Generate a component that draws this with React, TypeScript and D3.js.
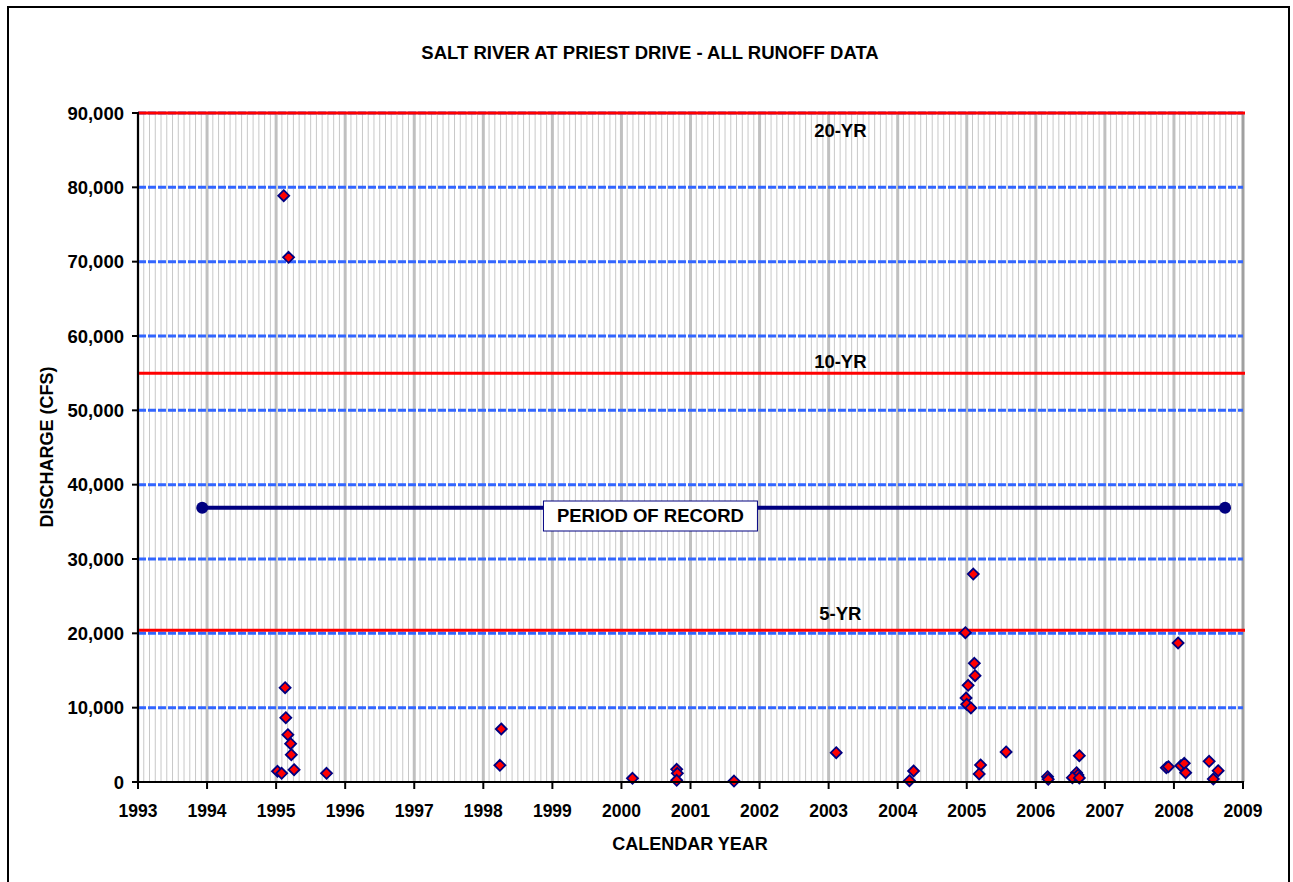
import React from "react";
import * as d3 from "d3";

const title = "SALT RIVER AT PRIEST DRIVE - ALL RUNOFF DATA";
const xTitle = "CALENDAR YEAR";
const yTitle = "DISCHARGE (CFS)";

const years = d3.range(1993, 2010);
const yTicks = d3.range(0, 90001, 10000);

const eventDates = [
  1995.11, 1995.18, 1995.13, 1995.14, 1995.17, 1995.21, 1995.22, 1995.26, 1995.02, 1995.08, 1995.73,
  1998.24, 1998.26,
  2000.16, 2000.80, 2000.81, 2000.80, 2001.63, 2003.11,
  2004.17, 2004.23, 2004.98, 2005.095, 2005.11, 2005.12, 2005.02, 2004.99, 2005.0, 2005.06,
  2005.57, 2005.2, 2005.18,
  2006.17, 2006.18, 2006.63, 2006.59, 2006.61, 2006.53, 2006.63,
  2007.89, 2007.92, 2008.06, 2008.1, 2008.15, 2008.17, 2008.51, 2008.64, 2008.57,
];
const eventDischarge = [
  78880, 70590, 12690, 8650, 6370, 5150, 3670, 1650, 1440, 1170, 1170,
  2240, 7130,
  500, 1710, 1170, 230, 130, 3940,
  180, 1480, 20090, 27980, 15970, 14300, 13010, 11300, 10450, 9960,
  4040, 2290, 1080,
  720, 360, 3540, 1250, 940, 580, 540,
  1920, 2060, 18700, 2190, 2510, 1250, 2780, 1520, 400,
];

const returnLabels = ["20-YR", "10-YR", "5-YR"];
const returnFlows = [90000, 55000, 20400];
const returnLabelFlows = [86770, 55630, 21860];
const returnLabelYear = 2003.17;

const recordStart = 1993.93;
const recordEnd = 2008.74;
const recordFlow = 36900;
const recordLabel = "PERIOD OF RECORD";
const recordLabelYear = 2000.42;

const FONT = "Arial, 'Liberation Sans', sans-serif";
const FS = 18.5;

export default function App() {
  const left = 138, right = 1243, top = 113, bottom = 782;
  const x = d3.scaleLinear().domain([1993, 2009]).range([left, right]);
  const y = d3.scaleLinear().domain([0, 90000]).range([bottom, top]);
  const months = d3.range(1993, 2009, 1 / 12).filter((m) => Math.abs(m - Math.round(m)) > 1e-6);
  const diamond = (cx: number, cy: number, r: number) =>
    `M${cx},${cy - r}L${cx + r},${cy}L${cx},${cy + r}L${cx - r},${cy}Z`;
  const midX = x(recordLabelYear);
  const txt = { fontFamily: FONT, fontWeight: "bold" as const, fontSize: FS };

  return (
    <svg width={1293} height={882} style={{ position: "absolute", left: 0, top: 0, background: "#fff" }}>
      <rect x={8} y={7} width={1281} height={900} fill="#fff" stroke="#000" strokeWidth={2} />
      <text x={650} y={59} textAnchor="middle" {...txt}>
        {title}
      </text>
      {months.map((m, i) => (
        <line key={"m" + i} x1={x(m)} x2={x(m)} y1={top} y2={bottom} stroke="#c8c8c8" strokeWidth={1} />
      ))}
      {years.map((yr) => (
        <line key={"g" + yr} x1={x(yr)} x2={x(yr)} y1={top} y2={bottom} stroke={yr === 2009 ? "#a0a0a0" : "#c0c0c0"} strokeWidth={3} />
      ))}
      {yTicks.filter((t) => t > 0).map((t) => (
        <line key={"h" + t} x1={left} x2={right} y1={y(t)} y2={y(t)} stroke="#3366ff" strokeWidth={3} strokeDasharray="8,2" />
      ))}
      {returnFlows.map((f, i) => (
        <line key={"r" + i} x1={left} x2={right + 2} y1={y(f)} y2={y(f)} stroke="#ff0000" strokeWidth={3} />
      ))}
      {returnLabels.map((l, i) => (
        <text key={"rl" + i} x={x(returnLabelYear)} y={y(returnLabelFlows[i])} textAnchor="middle" {...txt}>
          {l}
        </text>
      ))}
      <line x1={x(recordStart)} x2={x(recordEnd)} y1={y(recordFlow)} y2={y(recordFlow)} stroke="#000080" strokeWidth={4} />
      <circle cx={x(recordStart)} cy={y(recordFlow)} r={6} fill="#000080" />
      <circle cx={x(recordEnd)} cy={y(recordFlow)} r={6} fill="#000080" />
      <rect x={midX - 107} y={501} width={214} height={30} fill="#fff" stroke="#000080" strokeWidth={1} />
      <text x={midX} y={522} textAnchor="middle" {...txt}>
        {recordLabel}
      </text>
      {eventDates.map((d, i) => (
        <path key={"p" + i} d={diamond(x(d), y(eventDischarge[i]), 5.5)} fill="#ff0000" stroke="#000080" strokeWidth={1.8} />
      ))}
      <line x1={left} x2={left} y1={top - 1} y2={bottom + 1} stroke="#000" strokeWidth={2} />
      <line x1={left - 1} x2={right + 1} y1={bottom} y2={bottom} stroke="#000" strokeWidth={2} />
      {yTicks.map((t) => (
        <g key={"yt" + t}>
          <line x1={left - 6} x2={left} y1={y(t)} y2={y(t)} stroke="#000" strokeWidth={2} />
          <text x={124} y={y(t) + 6.6} textAnchor="end" {...txt}>
            {d3.format(",")(t)}
          </text>
        </g>
      ))}
      {years.map((yr) => (
        <g key={"xt" + yr}>
          <line x1={x(yr)} x2={x(yr)} y1={bottom} y2={bottom + 7} stroke="#000" strokeWidth={2} />
          <text x={x(yr)} y={817} textAnchor="middle" {...txt} fontSize={17.5}>
            {yr}
          </text>
        </g>
      ))}
      <text x={690} y={849.5} textAnchor="middle" {...txt} fontSize={18}>
        {xTitle}
      </text>
      <text transform={`translate(52.5,447) rotate(-90)`} textAnchor="middle" {...txt} fontSize={18}>
        {yTitle}
      </text>
    </svg>
  );
}
